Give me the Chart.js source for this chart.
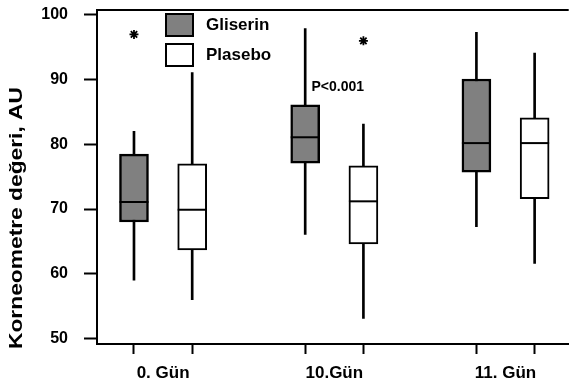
<!DOCTYPE html>
<html>
<head>
<meta charset="utf-8">
<script src="https://cdn.jsdelivr.net/npm/chart.js@4"></script>
<style>
  body { margin: 0; background: #fff; }
  #wrap { width: 575px; height: 387px; }
</style>
</head>
<body>
<div id="wrap"><canvas id="boxChart" width="575" height="387"></canvas></div>
<script>
const categories = ['0. Gün', '10.Gün', '11. Gün'];
const seriesNames = ['Gliserin', 'Plasebo'];

// box plot values
const gliserinMin = [59.0, 66.1, 67.3];
const gliserinQ1 = [68.0, 77.1, 75.7];
const gliserinMed = [71.1, 81.1, 80.2];
const gliserinQ3 = [78.5, 86.1, 90.1];
const gliserinMax = [82.0, 97.9, 97.3];

const plaseboMin = [56.0, 53.1, 61.6];
const plaseboQ1 = [63.7, 64.6, 71.6];
const plaseboMed = [69.9, 71.2, 80.2];
const plaseboQ3 = [77.0, 76.7, 84.1];
const plaseboMax = [91.1, 83.15, 94.1];

// significance marks (category index, series, value)
const starCats = [0, 1];
const starSeries = [0, 1];
const starValues = [97.0, 96.0];

const pNote = 'P<0.001';
const yTicks = [50, 60, 70, 80, 90, 100];
const yTitle = 'Korneometre değeri, AU';

const FONT = '"Liberation Sans", Arial, sans-serif';
const GROUP_OFFSET = 0.17;
const GRAY = '#808080';

function pos(cat, series) {
  return cat + (series === 0 ? -GROUP_OFFSET : GROUP_OFFSET);
}

function boxData(series, lo, hi) {
  return categories.map((c, i) => ({ x: pos(i, series), y: [lo[i], hi[i]] }));
}

const medians = [gliserinMed, plaseboMed];

const boxPlotExtras = {
  id: 'boxPlotExtras',
  afterDatasetsDraw(chart) {
    const ctx = chart.ctx;
    const y = chart.scales.y;
    const x = chart.scales.x;
    // median lines across the boxes
    [2, 3].forEach((dsIndex, s) => {
      const meta = chart.getDatasetMeta(dsIndex);
      meta.data.forEach((bar, i) => {
        const py = y.getPixelForValue(medians[s][i]);
        const half = bar.width / 2;
        ctx.save();
        ctx.strokeStyle = '#000';
        ctx.lineWidth = 2;
        ctx.beginPath();
        ctx.moveTo(bar.x - half, py);
        ctx.lineTo(bar.x + half, py);
        ctx.stroke();
        ctx.restore();
      });
    });
    // p-value note
    ctx.save();
    ctx.fillStyle = '#000';
    ctx.font = 'bold 14px ' + FONT;
    ctx.textAlign = 'center';
    ctx.textBaseline = 'middle';
    ctx.fillText(pNote, x.getPixelForValue(1.02), y.getPixelForValue(88.8));
    ctx.restore();
  },
  afterDraw(chart) {
    const ctx = chart.ctx;
    const area = chart.chartArea;
    const x = chart.scales.x;

    // top frame line
    ctx.save();
    ctx.strokeStyle = '#000';
    ctx.lineWidth = 2;
    ctx.beginPath();
    ctx.moveTo(area.left - 1, area.top);
    ctx.lineTo(area.right, area.top);
    ctx.stroke();
    ctx.restore();

    // category labels under the paired ticks
    ctx.save();
    ctx.fillStyle = '#000';
    ctx.font = 'bold 17px ' + FONT;
    ctx.textAlign = 'center';
    ctx.textBaseline = 'middle';
    categories.forEach((c, i) => {
      ctx.fillText(c, x.getPixelForValue(i), area.bottom + 29);
    });
    ctx.restore();

    // y axis title, stretched to the original length
    ctx.save();
    ctx.translate(17, 218);
    ctx.rotate(-Math.PI / 2);
    ctx.font = 'bold 18px ' + FONT;
    const w = ctx.measureText(yTitle).width;
    ctx.scale(262 / w, 1);
    ctx.fillStyle = '#000';
    ctx.textAlign = 'center';
    ctx.textBaseline = 'middle';
    ctx.fillText(yTitle, 0, 0);
    ctx.restore();

    // legend inside the plot
    const fills = [GRAY, '#fff'];
    seriesNames.forEach((name, s) => {
      const top = 14 + s * 30;
      ctx.save();
      ctx.fillStyle = fills[s];
      ctx.fillRect(166, top, 27, 22);
      ctx.strokeStyle = '#000';
      ctx.lineWidth = 2;
      ctx.strokeRect(166, top, 27, 22);
      ctx.fillStyle = '#000';
      ctx.font = 'bold 17px ' + FONT;
      ctx.textBaseline = 'middle';
      ctx.fillText(name, 206, top + 11);
      ctx.restore();
    });
  }
};

const ctx = document.getElementById('boxChart').getContext('2d');
new Chart(ctx, {
  type: 'bar',
  data: {
    datasets: [
      {
        label: 'Gliserin whisker',
        data: boxData(0, gliserinMin, gliserinMax),
        backgroundColor: '#000',
        borderWidth: 0,
        barThickness: 2,
        grouped: false,
        order: 3
      },
      {
        label: 'Plasebo whisker',
        data: boxData(1, plaseboMin, plaseboMax),
        backgroundColor: '#000',
        borderWidth: 0,
        barThickness: 2,
        grouped: false,
        order: 3
      },
      {
        label: seriesNames[0],
        data: boxData(0, gliserinQ1, gliserinQ3),
        backgroundColor: GRAY,
        borderColor: '#000',
        borderWidth: 2.5,
        borderSkipped: false,
        barThickness: 29,
        grouped: false,
        order: 2
      },
      {
        label: seriesNames[1],
        data: boxData(1, plaseboQ1, plaseboQ3),
        backgroundColor: '#fff',
        borderColor: '#000',
        borderWidth: 2,
        borderSkipped: false,
        barThickness: 29,
        grouped: false,
        order: 2
      },
      {
        type: 'scatter',
        label: 'significance',
        data: starCats.map((c, i) => ({ x: pos(c, starSeries[i]), y: starValues[i] })),
        pointStyle: 'star',
        radius: 4.5,
        borderWidth: 1.8,
        borderColor: '#000',
        order: 1
      }
    ]
  },
  options: {
    responsive: false,
    animation: false,
    layout: { padding: { top: 10, left: 0, right: 0, bottom: 0 } },
    plugins: {
      legend: { display: false },
      tooltip: { enabled: false }
    },
    scales: {
      x: {
        type: 'linear',
        min: -0.386,
        max: 2.369,
        offset: false,
        afterBuildTicks(scale) {
          const t = [];
          categories.forEach((c, i) => { t.push({ value: pos(i, 0) }, { value: pos(i, 1) }); });
          scale.ticks = t;
        },
        afterFit(scale) {
          scale.height = 43;
          scale.paddingLeft = 0;
          scale.paddingRight = 0;
        },
        ticks: { display: false },
        grid: {
          offset: false,
          drawOnChartArea: false,
          drawTicks: true,
          tickLength: 10,
          tickWidth: 2,
          tickColor: '#000'
        },
        border: { display: true, color: '#000', width: 2 }
      },
      y: {
        min: 49.15,
        max: 100.77,
        afterBuildTicks(scale) {
          scale.ticks = yTicks.map(v => ({ value: v }));
        },
        afterFit(scale) {
          scale.width = 97;
          scale.paddingTop = 0;
          scale.paddingBottom = 0;
        },
        ticks: {
          color: '#000',
          padding: 16,
          font: { family: FONT, size: 16, weight: 'bold' }
        },
        grid: {
          drawOnChartArea: false,
          drawTicks: true,
          tickLength: 13,
          tickWidth: 2,
          tickColor: '#000'
        },
        border: { display: true, color: '#000', width: 2 }
      }
    }
  },
  plugins: [boxPlotExtras]
});
</script>
</body>
</html>
